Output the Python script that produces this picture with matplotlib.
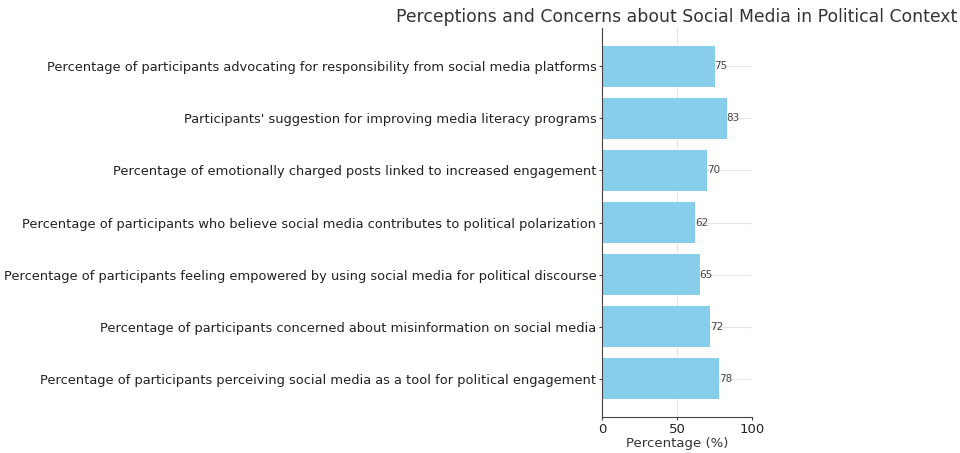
import matplotlib
matplotlib.use('Agg')
from matplotlib import pyplot as plt

# Data
labels = [
    "Percentage of participants perceiving social media as a tool for political engagement",
    "Percentage of participants concerned about misinformation on social media",
    "Percentage of participants feeling empowered by using social media for political discourse",
    "Percentage of participants who believe social media contributes to political polarization",
    "Percentage of emotionally charged posts linked to increased engagement",
    "Participants' suggestion for improving media literacy programs",
    "Percentage of participants advocating for responsibility from social media platforms",
]
values = [78, 72, 65, 62, 70, 83, 75]
x_ticks = [0, 50, 100]

fig = plt.figure(figsize=(9.6, 4.53), dpi=100)
ax = fig.add_axes([602 / 960, 1 - 417 / 453, 150 / 960, (417 - 28) / 453])

bars = ax.barh(range(len(values)), values, height=0.8, color='#87ceeb', zorder=2)
for i, v in enumerate(values):
    ax.text(v, i, str(v), va='center', ha='left', fontsize=7.5, color='#444444', zorder=3)

ax.set_yticks(range(len(labels)))
ax.set_yticklabels(labels, fontsize=9.4, color='#222222')
ax.set_xticks(x_ticks)
ax.set_xticklabels([str(t) for t in x_ticks], fontsize=9.5, color='#222222')
ax.set_xlim(0, 100)
ax.set_xlabel('Percentage (%)', fontsize=9.5, color='#333333', labelpad=1)
ax.set_title('Perceptions and Concerns about Social Media in Political Context',
             fontsize=12.45, color='#333333', pad=4)

ax.grid(True, color='#e6e6e6', linewidth=0.8, zorder=0)
for s in ['top', 'right']:
    ax.spines[s].set_visible(False)
for s in ['left', 'bottom']:
    ax.spines[s].set_color('#444444')
ax.tick_params(axis='both', colors='#444444', length=2.5, pad=1.5)
ax.tick_params(axis='both', labelcolor='#222222')

fig.savefig('out.png', dpi=100)
